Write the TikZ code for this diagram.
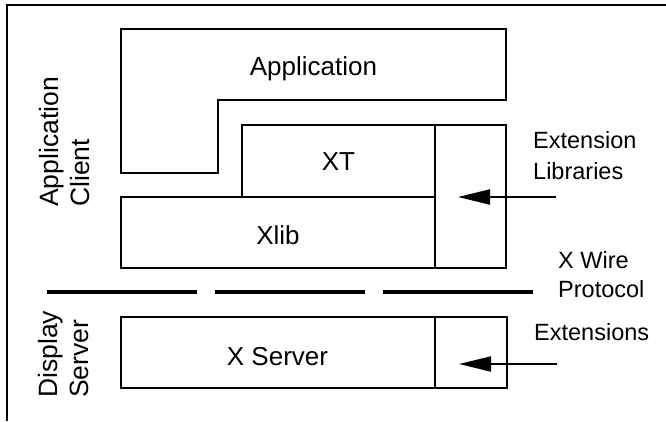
\documentclass[tikz,border=0pt]{standalone}
\usepackage{fontspec}
\setmainfont{Liberation Sans}
\usetikzlibrary{arrows.meta}
\tikzset{
  boxline/.style={line width=2.2pt},
  blk/.style={draw, line width=2.2pt, rectangle, inner sep=0pt, outer sep=0pt},
  boxtext/.style={inner sep=0pt, font=\fontsize{26}{30}\selectfont, anchor=base},
  sidetext/.style={inner sep=0pt, font=\fontsize{23.5}{30}\selectfont, anchor=base west},
  rottext/.style={inner sep=0pt, font=\fontsize{26.5}{30}\selectfont, anchor=base west, rotate=90},
  feed/.style={line width=2pt, -{Triangle[length=32pt, width=15pt]}},
  wire/.style={line width=4.2pt, dash pattern=on 150pt off 18pt}
}
\begin{document}
\begin{tikzpicture}[x=1pt, y=-1pt]
\useasboundingbox (0,0) rectangle (666,421);
% outer frame
\draw[line width=1.5pt] (666,5) -- (7,5) -- (7,421);
% Application (L-shaped)
\draw[boxline] (121,29) -- (506,29) -- (506,100) -- (218,100) -- (218,173) -- (121,173) -- cycle;
\node[boxtext] (app) at (313.5,75) {Application};
% XT, Xlib, extension libraries
\node[blk, minimum width=193pt, minimum height=72pt] (xt) at (338.5,161) {};
\node[blk, minimum width=314pt, minimum height=71pt] (xlib) at (278,232.5) {};
\node[blk, minimum width=71pt, minimum height=143pt] (extlib) at (470.5,196.5) {};
\node[boxtext] (xtl) at (338.5,170) {XT};
\node[boxtext] (xlibl) at (278,244) {Xlib};
% X server and extensions
\node[blk, minimum width=314pt, minimum height=71pt] (xserver) at (278,352.5) {};
\node[blk, minimum width=72pt, minimum height=71pt] (ext) at (471,352.5) {};
\node[boxtext] (xserverl) at (277.5,365) {X Server};
% wire protocol line
\coordinate (wireL) at (47,292);
\coordinate (wireR) at (533,292);
\draw[wire] (wireL) -- (wireR);
% arrows
\coordinate (extlibtail) at (556,197);
\coordinate (extlibtip) at (458,197);
\draw[feed] (extlibtail) -- (extlibtip);
\coordinate (exttail) at (557,364);
\coordinate (exttip) at (459,364);
\draw[feed] (exttail) -- (exttip);
% side labels
\node[sidetext] (extlibA) at (533,148) {Extension};
\node[sidetext] (extlibB) at (533,179) {Libraries};
\node[sidetext] (wireA) at (558,268) {X Wire};
\node[sidetext] (wireB) at (558,297) {Protocol};
\node[sidetext] (extA) at (534,340) {Extensions};
% rotated labels
\node[rottext] (clientA) at (58,207) {Application};
\node[rottext] (clientB) at (89,207) {Client};
\node[rottext] (serverA) at (57,398) {Display};
\node[rottext] (serverB) at (88,398) {Server};
\end{tikzpicture}
\end{document}
